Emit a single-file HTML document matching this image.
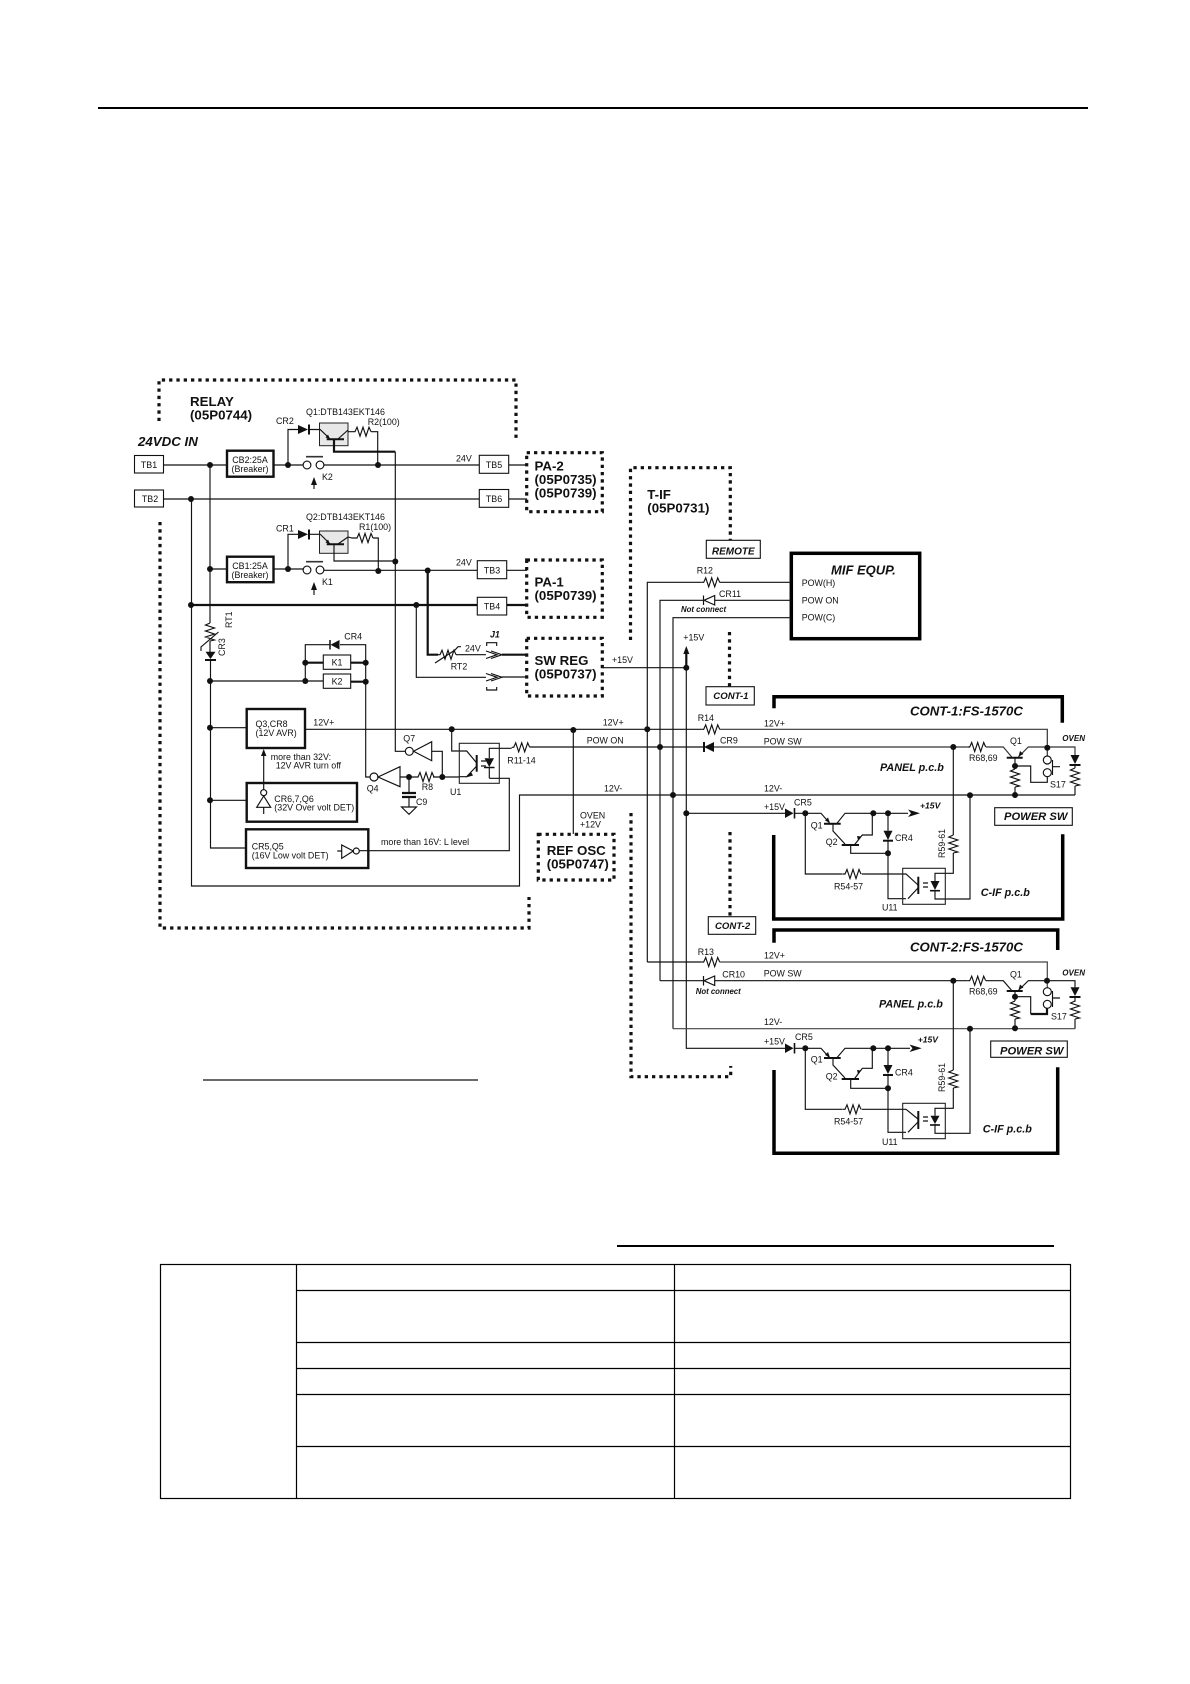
<!DOCTYPE html>
<html><head><meta charset="utf-8"><title>Power supply diagram</title>
<style>
html,body{margin:0;padding:0;background:#fff;width:1190px;height:1684px;overflow:hidden}
svg{display:block}
text{font-family:"Liberation Sans",sans-serif;fill:#111;font-size:8.9px}
.b{font-weight:bold;font-size:13.3px}
.bi{font-weight:bold;font-style:italic}
.l{fill:none;stroke:#111;stroke-width:1.15}
.m{fill:none;stroke:#111;stroke-width:2.2}
.h{fill:none;stroke:#000;stroke-width:3.5}
.d{fill:none;stroke:#111;stroke-width:3.2;stroke-dasharray:3.3 4}
.bx{fill:#fff;stroke:#111;stroke-width:1.1}
.bm{fill:#fff;stroke:#111;stroke-width:2.4}
.g{fill:#e8e8e8;stroke:#222;stroke-width:1}
.f{fill:#111;stroke:none}
.o{fill:#fff;stroke:#111;stroke-width:1.15}
</style></head><body>
<svg width="1190" height="1684" viewBox="0 0 1190 1684" xmlns="http://www.w3.org/2000/svg">
<defs>
<polyline id="rh" class="l" points="0,0 2,0 4,-4.5 7,4.5 10,-4.5 13,4.5 16,-4.5 18,0" />
<polyline id="rv" class="l" points="0,0 -4.5,2 4.5,5 -4.5,8 4.5,11 -4.5,14 4.5,17 0,18" />
<circle id="n" class="f" r="3"/>
</defs>
<rect width="1190" height="1684" fill="#fff"/>

<!-- page rules -->
<line x1="98" y1="108" x2="1088" y2="108" stroke="#000" stroke-width="2"/>
<line x1="203" y1="1080" x2="478" y2="1080" stroke="#111" stroke-width="1.2"/>
<line x1="617" y1="1246" x2="1054" y2="1246" stroke="#000" stroke-width="2"/>

<!-- table -->
<g fill="none" stroke="#000" stroke-width="1.2">
<rect x="160.5" y="1264.5" width="910" height="234"/>
<path d="M296.5 1264.5V1498.5M674.5 1264.5V1498.5"/>
<path d="M296.5 1290.5H1070.5M296.5 1342.5H1070.5M296.5 1368.5H1070.5M296.5 1394.5H1070.5M296.5 1446.5H1070.5"/>
</g>

<!-- dotted boards -->
<path class="d" d="M159 421V380H516V438"/>
<path class="d" d="M160 522V928H529V897"/>
<rect class="d" x="526.7" y="452.7" width="75.6" height="59"/>
<rect class="d" x="526.7" y="560" width="75.6" height="57.3"/>
<rect class="d" x="526.7" y="638.3" width="75.6" height="57.7"/>
<rect class="d" x="538.3" y="834.3" width="75.7" height="45.7"/>
<path class="d" d="M630.5 640V467.7H730.3V540"/>
<path class="d" d="M729.5 632V687"/>
<path class="d" d="M730 832V917"/>
<path class="d" d="M631 813V1076.7H730.7V1066"/>

<!-- RELAY titles -->
<text class="b" x="190" y="406">RELAY</text>
<text class="b" x="190" y="419.5">(05P0744)</text>
<text class="b" x="138" y="446" style="font-style:italic">24VDC IN</text>

<!-- TB1/TB2 wiring -->
<path class="l" d="M163.5 465H227M163.5 499H479M210 465V623M210 569H227"/>
<path class="l" d="M191.5 499V886H519.5V795H1075"/>
<path class="l" d="M273.5 465H303M324 465H479.3M508.7 465H527M508.7 499H527"/>
<path class="l" d="M273.5 569H303M324 570.3H477.3M506.7 570.3H527"/>
<path class="m" d="M191 605H477.3M506.7 605H527"/>
<rect class="bx" x="134.5" y="455.5" width="29" height="17.5"/>
<text x="149" y="468" text-anchor="middle">TB1</text>
<rect class="bx" x="134.5" y="490" width="29" height="17"/>
<text x="150" y="502" text-anchor="middle">TB2</text>
<rect class="bx" x="479.3" y="455.3" width="29.4" height="18"/>
<text x="494" y="468" text-anchor="middle">TB5</text>
<rect class="bx" x="479.3" y="489.5" width="29.4" height="17.8"/>
<text x="494" y="502" text-anchor="middle">TB6</text>
<rect class="bx" x="477.3" y="560.7" width="29.4" height="18"/>
<text x="492" y="573.5" text-anchor="middle">TB3</text>
<rect class="bx" x="477.3" y="597.3" width="29.4" height="17.7" stroke-width="1.4"/>
<text x="492" y="609.5" text-anchor="middle">TB4</text>
<text x="456" y="461.7">24V</text>
<text x="456" y="565.7">24V</text>

<rect class="bm" x="227" y="450.7" width="46.5" height="26"/>
<text x="250" y="463" text-anchor="middle">CB2:25A</text>
<text x="250" y="472" text-anchor="middle">(Breaker)</text>
<rect class="bm" x="227" y="556.7" width="46.5" height="25.5"/>
<text x="250" y="569" text-anchor="middle">CB1:25A</text>
<text x="250" y="578" text-anchor="middle">(Breaker)</text>

<!-- K2 contact -->
<circle class="o" cx="307" cy="465" r="3.9"/><circle class="o" cx="320" cy="465" r="3.9"/>
<line x1="306" y1="456.7" x2="323" y2="456.7" stroke="#333" stroke-width="1.6"/>
<path class="l" d="M314 489V481"/><polygon class="f" points="314,477 311,485 317,485"/>
<text x="322" y="480">K2</text>
<!-- K1 contact -->
<circle class="o" cx="307" cy="570" r="3.9"/><circle class="o" cx="320" cy="570" r="3.9"/>
<line x1="306" y1="561.7" x2="323" y2="561.7" stroke="#333" stroke-width="1.6"/>
<path class="l" d="M314 595V586"/><polygon class="f" points="314,582 311,590 317,590"/>
<text x="322" y="585">K1</text>

<!-- Q1 relay -->
<path class="l" d="M288 465V429.5H298M309 429.5H320"/>
<polygon class="f" points="298,425 298,434 308,429.5"/><line x1="309" y1="424.5" x2="309" y2="434.5" stroke="#111" stroke-width="2"/>
<rect class="g" x="319.5" y="423" width="28.5" height="22.7"/>
<path class="l" d="M320 429.3L330 439M338 439L348 430M348 431.7H353"/>
<line x1="326.7" y1="439.3" x2="344" y2="439.3" stroke="#111" stroke-width="2"/>
<polygon class="f" points="330,439 325.5,437.5 328,434.5"/>
<use href="#rh" x="353" y="431.7"/>
<path class="l" d="M371 431.7H377.7V465"/>
<path class="m" d="M334 439V451.7H395.3"/>
<text x="306" y="415">Q1:DTB143EKT146</text>
<text x="367.7" y="425">R2(100)</text>
<text x="276" y="424">CR2</text>

<!-- Q2 relay -->
<path class="l" d="M288 569V534.3H298M309 534.3H320"/>
<polygon class="f" points="298,530 298,539 308,534.3"/><line x1="309" y1="529.5" x2="309" y2="539.5" stroke="#111" stroke-width="2"/>
<rect class="g" x="319.5" y="531" width="28.5" height="22.3"/>
<path class="l" d="M320 534L330 544M338 544L348 537L352 538H355"/>
<line x1="326.7" y1="544.3" x2="344" y2="544.3" stroke="#111" stroke-width="2"/>
<polygon class="f" points="330,544 325.5,542.5 328,539.5"/>
<use href="#rh" x="355" y="538"/>
<path class="l" d="M373 538H378.3V571M334 544V561H395.3"/>
<text x="306" y="520">Q2:DTB143EKT146</text>
<text x="359" y="530">R1(100)</text>
<text x="276" y="531.7">CR1</text>
<path class="l" d="M395.3 451.7V751.3H405"/>

<!-- SW REG feeds -->
<path class="m" d="M427.7 570.5V654.7H438"/>
<use href="#rh" x="438" y="654.7"/>
<path class="l" d="M435 663L455 650L458 646.7H461M456 654.7H486"/>
<path class="m" d="M502 654.7H526"/>
<path class="l" d="M486 651L497 654.7L486 658.5M491 651L502 654.7L491 658.5"/>
<path class="l" d="M486.7 646V642.7H496.7V646M486.7 687V690H496.7V687"/>
<path class="l" d="M416.3 605V677.3H486M502 677H526"/>
<path class="l" d="M486 673.5L497 677.3L486 681M491 673.5L502 677.3L491 681"/>
<text x="465" y="651.7">24V</text>
<text x="450.7" y="669.3">RT2</text>
<text class="bi" x="490" y="637.7">J1</text>

<!-- RT1 CR3 -->
<use href="#rv" x="210" y="623"/>
<path class="l" d="M201 651V647L218.5 632"/>
<polygon class="f" points="205.5,651.7 215.5,651.7 210.5,659"/>
<line x1="205" y1="660" x2="216" y2="660" stroke="#111" stroke-width="2"/>
<path class="l" d="M210 641V652M210.5 660V848H246"/>
<text transform="translate(232,628) rotate(-90)">RT1</text>
<text transform="translate(225,656) rotate(-90)">CR3</text>

<!-- CR4, K1, K2 -->
<path class="l" d="M305.3 681V644.7H330M340 644.7H365.7V777H370"/>
<polygon class="f" points="330.5,644.7 339.5,640 339.5,649.5"/><line x1="330" y1="640" x2="330" y2="649.5" stroke="#111" stroke-width="1.5"/>
<text x="344.3" y="639.3">CR4</text>
<path class="l" d="M210 681H323.3"/>
<path class="m" d="M305.3 662.7H323.3M350.7 662.7H365.7M350.7 681.7H365.7"/>
<rect class="bx" x="323.3" y="655" width="27.4" height="14.3"/>
<text x="337" y="665.5" text-anchor="middle">K1</text>
<rect class="bx" x="323.3" y="674" width="27.4" height="14.3"/>
<text x="337" y="684.5" text-anchor="middle">K2</text>

<!-- Q3 AVR -->
<path class="l" d="M210 727.7H246.7M305 729.3H701.7"/>
<rect class="bm" x="246.7" y="709" width="58.3" height="39"/>
<text x="255.5" y="727">Q3,CR8</text>
<text x="255.5" y="736">(12V AVR)</text>
<text x="313.3" y="725.3">12V+</text>
<text x="270.7" y="760">more than 32V:</text>
<text x="275.7" y="768.7">12V AVR turn off</text>
<path class="l" d="M263.7 790V754"/><polygon class="f" points="263.7,749 261,756 266.4,756"/>

<!-- CR6 box -->
<path class="l" d="M210 800.3H246.7"/>
<rect class="bm" x="246.7" y="783" width="110.3" height="38.7"/>
<circle class="o" cx="263.7" cy="792.7" r="3"/>
<polygon class="o" points="263.7,796 256.7,807.3 270.7,807.3"/>
<path class="l" d="M263.7 807.3V814M263.7 783V789.7"/>
<text x="274.3" y="802">CR6,7,Q6</text>
<text x="274.3" y="810.7">(32V Over volt DET)</text>

<!-- CR5 box -->
<rect class="bm" x="246" y="829.3" width="122.3" height="38.7"/>
<text x="251.7" y="849.3">CR5,Q5</text>
<text x="251.7" y="858.7">(16V Low volt DET)</text>
<path class="l" d="M337.3 851H341.7M359.3 850.7H509.3V778.3H489.3"/>
<polygon class="o" points="341.7,845 341.7,858.3 353.3,851"/>
<circle class="o" cx="356.3" cy="851" r="3"/>
<text x="381" y="845">more than 16V: L level</text>

<!-- Q7 Q4 -->
<circle class="o" cx="409.3" cy="751.3" r="4"/>
<polygon class="o" points="413.5,751.3 431.7,741.7 431.7,760.7"/>
<path class="l" d="M431.7 751.3H442.3V777"/>
<text x="403.3" y="741.7">Q7</text>
<circle class="o" cx="374" cy="777" r="4"/>
<polygon class="o" points="378,777 400,766.7 400,786.7"/>
<path class="l" d="M400 777H416M433 777H459"/>
<use href="#rh" x="416" y="777"/>
<text x="366.7" y="791.7">Q4</text>
<text x="421.7" y="790">R8</text>
<path class="l" d="M409 777V792.7M409 796.7V807"/>
<path class="m" d="M402 793H416M402 797H416"/>
<polygon class="o" points="401.5,807 416.5,807 409,814.3"/>
<text x="416" y="805">C9</text>

<!-- U1 -->
<path class="l" d="M451.7 729.3V751H466.7L476.7 763M476.7 766L466.7 776.7H459"/>
<rect x="459.3" y="743.3" width="40" height="40" fill="none" stroke="#222" stroke-width="1.1"/>
<line x1="476.7" y1="755" x2="476.7" y2="771.7" stroke="#111" stroke-width="2"/>
<polygon class="f" points="466,777.5 471,772 473,775.5"/>
<path class="l" d="M481 761H486M481 766H486"/>
<polygon class="f" points="484.5,758.3 494,758.3 489.3,767"/>
<line x1="484" y1="767.5" x2="494.5" y2="767.5" stroke="#111" stroke-width="1.5"/>
<path class="l" d="M489.3 758V748.3H511.7M489.3 767V778.3"/>
<use href="#rh" x="511.7" y="747.3"/>
<path class="l" d="M530 747H704"/>
<text x="507.3" y="763.3">R11-14</text>
<text x="450" y="795">U1</text>
<text x="586.7" y="743.3">POW ON</text>
<text x="602.7" y="725.3">12V+</text>
<text x="604" y="791.7">12V-</text>

<!-- OVEN 12V -->
<path class="l" d="M573.3 730V834"/>
<text x="580" y="818.3">OVEN</text>
<text x="580" y="827.3">+12V</text>

<!-- Box labels right of relay -->
<text class="b" x="534.5" y="470.7">PA-2</text>
<text class="b" x="534.5" y="484">(05P0735)</text>
<text class="b" x="534.5" y="497.3">(05P0739)</text>
<text class="b" x="534.5" y="586.7">PA-1</text>
<text class="b" x="534.5" y="600">(05P0739)</text>
<text class="b" x="534.5" y="665">SW REG</text>
<text class="b" x="534.5" y="678.3">(05P0737)</text>
<text class="b" x="546.7" y="855">REF OSC</text>
<text class="b" x="546.7" y="868.3">(05P0747)</text>
<text class="b" x="647.3" y="499">T-IF</text>
<text class="b" x="647.3" y="512.7">(05P0731)</text>

<!-- +15V -->
<path class="l" d="M602.3 667.7H686.3"/>
<text x="612" y="663">+15V</text>
<path class="m" d="M686.3 668V652"/>
<polygon class="f" points="686.3,646 683.3,654 689.3,654"/>
<text x="683.3" y="640.7">+15V</text>

<!-- MIF -->
<rect x="791.3" y="553.3" width="128.4" height="85.4" fill="#fff" stroke="#000" stroke-width="3.5"/>
<text class="bi" x="831" y="574.3" style="font-size:13px">MIF EQUP.</text>
<text x="801.7" y="586">POW(H)</text>
<text x="801.7" y="603.3">POW ON</text>
<text x="801.7" y="620.7">POW(C)</text>
<rect class="bx" x="706.3" y="540.3" width="54" height="18"/>
<text class="bi" x="733.3" y="554.3" text-anchor="middle" style="font-size:10px">REMOTE</text>
<rect class="bx" x="706" y="686.7" width="48.3" height="18.3" stroke-width="1.3"/>
<text class="bi" x="713.3" y="699" style="font-size:9.6px">CONT-1</text>
<rect class="bx" x="708.3" y="916.7" width="47.4" height="17.6"/>
<text class="bi" x="715" y="929" style="font-size:9.6px">CONT-2</text>

<path class="l" d="M647.3 962V582.3H701.7M719.5 582.3H791.3"/>
<use href="#rh" x="701.7" y="582.3"/>
<text x="696.7" y="573.3">R12</text>
<path class="l" d="M660 980.7V600.3H703.3M714.7 600.3H791.3"/>
<polygon class="o" points="704,600.3 714.7,595.5 714.7,605"/><line x1="703.5" y1="595.5" x2="703.5" y2="605" stroke="#111" stroke-width="1.2"/>
<text x="719" y="597">CR11</text>
<text class="bi" x="681" y="612" style="font-size:7.8px">Not connect</text>
<path class="l" d="M673 1028.7V617.7H791.3"/>
<path class="l" d="M686.3 668V1048.3H785M686.3 813.3H785"/>

<!-- CONT-1 -->
<path class="h" d="M774 708.3V696.7H1062.3V722.7"/>
<path class="h" d="M773.7 835V919H1062.7V834.3"/>
<text class="bi" x="910" y="715.7" style="font-size:13.2px">CONT-1:FS-1570C</text>
<use href="#rh" x="701.7" y="729.3"/>
<text x="697.7" y="721">R14</text>
<path d="M719.5 729.3H1047.3V756" fill="none" stroke="#333" stroke-width="1.2"/>
<polygon class="f" points="704,747 714,742 714,752"/><line x1="704" y1="742" x2="704" y2="752" stroke="#111" stroke-width="2"/>
<text x="720" y="743.3">CR9</text>
<text x="764" y="726.7">12V+</text>
<text x="763.7" y="744.3">POW SW</text>
<path d="M714 747H967.7M986 747H1003.3L1011.7 757M1018.3 757L1028.3 747H1075V755" fill="none" stroke="#333" stroke-width="1.15"/>
<use href="#rh" x="967.7" y="747"/>
<line x1="1006.7" y1="757.7" x2="1022.7" y2="757.7" stroke="#111" stroke-width="2"/>
<polygon class="f" points="1018.5,756.5 1020,751 1023.5,754"/>
<text class="bi" x="1062.3" y="741" style="font-size:8px">OVEN</text>
<text x="1010" y="744">Q1</text>
<text x="969" y="761">R68,69</text>
<polygon class="f" points="1070.5,755 1079.5,755 1075,764"/><line x1="1069.5" y1="765" x2="1080.5" y2="765" stroke="#111" stroke-width="2"/>
<path class="l" d="M1075 765V768M1075 786V795"/>
<use href="#rv" x="1075" y="768"/>
<path class="l" d="M1015 757.7V769M1015 787V795M1015 766H1030.7V782.3H1047.3V776.7"/>
<use href="#rv" x="1015" y="769"/>
<circle class="o" cx="1047.3" cy="760" r="4"/><circle class="o" cx="1047.3" cy="772.7" r="4"/>
<path class="l" d="M1052.5 760V775M1052.5 766.7H1060"/>
<text x="1050" y="787.3">S17</text>
<text class="bi" x="880" y="771" style="font-size:10.8px">PANEL p.c.b</text>
<text x="764" y="791.7">12V-</text>

<rect class="bx" x="994.7" y="807.7" width="77.6" height="17.6"/>
<text class="bi" x="1004" y="820" style="font-size:11.2px">POWER SW</text>

<!-- C-IF 1 -->
<text x="764" y="810">+15V</text>
<text x="794" y="805.7">CR5</text>
<polygon class="f" points="785,808.5 785,818 793.5,813.3"/><line x1="794.5" y1="808" x2="794.5" y2="818.5" stroke="#111" stroke-width="1.6"/>
<path class="l" d="M795 813.3H821L829.3 822.7M836.7 823.7L845 813.3H908M828 824H833V831L845 844M854.3 845L862.3 835H872.3V813.3M850.7 845V853.3H888M888 813.3V830.7M888 840V898.7H906M805.3 813.3V874H842.7M861.7 874H906L918 885M918 888L908 898.7"/>
<use href="#rh" x="843" y="874"/>
<line x1="824" y1="823.7" x2="840.7" y2="823.7" stroke="#111" stroke-width="2"/>
<line x1="841.7" y1="845" x2="859" y2="845" stroke="#111" stroke-width="2"/>
<polygon class="f" points="908,809.5 920,813.3 908,817 911,813.3"/>
<polygon class="f" points="830,823 825,820.5 828,817.5"/><polygon class="f" points="858,840 857,836 861,836.5"/>
<text class="bi" x="920" y="808.7" style="font-size:8.6px">+15V</text>
<polygon class="f" points="883.5,830.7 892.5,830.7 888,840"/><line x1="883" y1="840.7" x2="893" y2="840.7" stroke="#111" stroke-width="2"/>
<text x="895" y="841">CR4</text>
<text x="810.7" y="828.3">Q1</text><text x="825.7" y="845">Q2</text>
<text x="834" y="889.3">R54-57</text>
<path class="l" d="M953.3 747V835M953.3 853V873.3H935V881M935 890V899H970V795.3"/>
<use href="#rv" x="953.3" y="835"/>
<text transform="translate(945,858) rotate(-90)">R59-61</text>
<rect x="902.7" y="868.3" width="42.6" height="36" fill="none" stroke="#222" stroke-width="1.1"/>
<line x1="918.3" y1="876.7" x2="918.3" y2="894" stroke="#111" stroke-width="2"/>
<polygon class="f" points="930.5,881 939.5,881 935,890"/><line x1="930" y1="890.7" x2="940" y2="890.7" stroke="#111" stroke-width="1.6"/>
<path class="l" d="M923 883H928M923 887H928"/>
<text x="882" y="910.7">U11</text>
<text class="bi" x="980.7" y="896" style="font-size:10.8px">C-IF p.c.b</text>

<!-- CONT-2 -->
<path class="h" d="M774 942.7V930H1057.7V950"/>
<path class="h" d="M774 1070V1153.3H1057.7V1067.3"/>
<text class="bi" x="910" y="951.7" style="font-size:13.2px">CONT-2:FS-1570C</text>
<path class="l" d="M647.3 962H701.7"/>
<use href="#rh" x="701.7" y="962"/>
<text x="697.7" y="955">R13</text>
<path d="M719.5 962H1047.3V988" fill="none" stroke="#444" stroke-width="1.2"/>
<path class="l" d="M660 980.7H703.3M714.7 980.7H967.7M986 980.7H1003.3L1011.7 990.5M1018.3 990.5L1028.3 980.7H1075V987.3"/>
<polygon class="o" points="704,980.7 714.7,976 714.7,985.5"/><line x1="703.5" y1="976" x2="703.5" y2="985.5" stroke="#111" stroke-width="1.2"/>
<use href="#rh" x="967.7" y="980.7"/>
<line x1="1006.7" y1="991" x2="1022.7" y2="991" stroke="#111" stroke-width="2"/>
<polygon class="f" points="1018.5,990 1020,984.5 1023.5,987.5"/>
<text x="722.3" y="977.3">CR10</text>
<text class="bi" x="695.7" y="994" style="font-size:7.8px">Not connect</text>
<text x="764" y="958.3">12V+</text>
<text x="763.7" y="976.7">POW SW</text>
<text class="bi" x="1062.3" y="975.7" style="font-size:8px">OVEN</text>
<text x="1010" y="977.7">Q1</text>
<text x="969" y="994.3">R68,69</text>
<polygon class="f" points="1070.5,987.3 1079.5,987.3 1075,996"/><line x1="1069.5" y1="997" x2="1080.5" y2="997" stroke="#111" stroke-width="2"/>
<path class="l" d="M1075 997V1001.7M1075 1019V1028.7"/>
<use href="#rv" x="1075" y="1001"/>
<path class="l" d="M1015 991V1001M1015 1019V1028.3M1015 996.7H1030.7V1014"/>
<path class="m" d="M1030.7 1014H1047V1008"/>
<use href="#rv" x="1015" y="1001"/>
<circle class="o" cx="1047.3" cy="991.7" r="4"/><circle class="o" cx="1047.3" cy="1004.3" r="4"/>
<path class="l" d="M1052.5 991V1007M1052.5 998H1060"/>
<text x="1051" y="1019.3">S17</text>
<text class="bi" x="879" y="1007.7" style="font-size:10.8px">PANEL p.c.b</text>
<path d="M673 1028.7H1075" fill="none" stroke="#444" stroke-width="1.2"/>
<text x="764" y="1025">12V-</text>

<rect class="bx" x="990.7" y="1041" width="76.6" height="16.3"/>
<text class="bi" x="1000" y="1054.3" style="font-size:11.2px">POWER SW</text>

<text x="764" y="1044.3">+15V</text>
<text x="795" y="1040">CR5</text>
<polygon class="f" points="785,1043.5 785,1053 793.5,1048.3"/><line x1="794.5" y1="1043" x2="794.5" y2="1053.5" stroke="#111" stroke-width="1.6"/>
<path class="l" d="M795 1048.3H821L829.3 1057.5M836.7 1058L845 1048.3H910M828 1058H833V1065L845 1078M854.3 1079L862.3 1068.3H872.3V1048.3M850.7 1079V1088.3H888M888 1048.3V1065M888 1074V1132.3H906M805.3 1048.3V1109.3H842.7M861.7 1109.3H906L918 1119M918 1122L908 1132.3"/>
<use href="#rh" x="843" y="1109.3"/>
<line x1="824" y1="1058" x2="840.7" y2="1058" stroke="#111" stroke-width="2"/>
<line x1="841.7" y1="1079" x2="859" y2="1079" stroke="#111" stroke-width="2"/>
<polygon class="f" points="909.5,1044.5 921.7,1048.3 909.5,1052 912.5,1048.3"/>
<polygon class="f" points="830,1057.5 825,1055 828,1052"/><polygon class="f" points="858,1074 857,1070 861,1070.5"/>
<text class="bi" x="917.7" y="1042.3" style="font-size:8.6px">+15V</text>
<polygon class="f" points="883.5,1065 892.5,1065 888,1074"/><line x1="883" y1="1075" x2="893" y2="1075" stroke="#111" stroke-width="2"/>
<text x="895" y="1075.7">CR4</text>
<text x="810.7" y="1062.7">Q1</text><text x="825.7" y="1079.3">Q2</text>
<text x="834" y="1124.3">R54-57</text>
<path class="l" d="M953.3 980.7V1070M953.3 1088V1108.3H935V1115.7M935 1124V1133.3H970V1028.7"/>
<use href="#rv" x="953.3" y="1070"/>
<text transform="translate(945,1092) rotate(-90)">R59-61</text>
<rect x="902.7" y="1103.3" width="42.6" height="35.4" fill="none" stroke="#222" stroke-width="1.1"/>
<line x1="918.3" y1="1111" x2="918.3" y2="1129" stroke="#111" stroke-width="2"/>
<polygon class="f" points="930.5,1115.7 939.5,1115.7 935,1124"/><line x1="930" y1="1125" x2="940" y2="1125" stroke="#111" stroke-width="1.6"/>
<path class="l" d="M923 1117H928M923 1121H928"/>
<text x="882" y="1145">U11</text>
<text class="bi" x="982.7" y="1132.7" style="font-size:10.8px">C-IF p.c.b</text>

<!-- nodes -->
<use href="#n" x="210" y="465"/><use href="#n" x="191" y="499"/><use href="#n" x="288" y="465"/><use href="#n" x="378" y="465"/>
<use href="#n" x="210" y="569"/><use href="#n" x="288" y="569"/><use href="#n" x="378.3" y="571"/><use href="#n" x="395.3" y="561.5"/>
<use href="#n" x="427.7" y="570.5"/><use href="#n" x="191" y="605"/><use href="#n" x="416.3" y="605"/>
<use href="#n" x="305.3" y="662.7"/><use href="#n" x="365.7" y="662.7"/><use href="#n" x="210" y="681"/><use href="#n" x="305.3" y="681"/><use href="#n" x="365.7" y="681.7"/>
<use href="#n" x="210" y="727.7"/><use href="#n" x="210" y="800.3"/><use href="#n" x="451.7" y="729.3"/><use href="#n" x="573.3" y="730"/>
<use href="#n" x="409" y="777"/><use href="#n" x="442.3" y="777"/>
<use href="#n" x="686.3" y="667.7"/><use href="#n" x="647.3" y="729.3"/><use href="#n" x="660" y="747"/><use href="#n" x="673" y="795"/><use href="#n" x="686.3" y="813.3"/>
<use href="#n" x="953.3" y="747"/><use href="#n" x="1047.3" y="747.7"/><use href="#n" x="1015" y="766"/><use href="#n" x="1015" y="795"/><use href="#n" x="970" y="795.3"/>
<use href="#n" x="805.3" y="813.3"/><use href="#n" x="873.3" y="813.3"/><use href="#n" x="888" y="813.3"/><use href="#n" x="888" y="853.3"/>
<use href="#n" x="953.3" y="980.7"/><use href="#n" x="1047" y="980.7"/><use href="#n" x="1015" y="996.7"/><use href="#n" x="1015" y="1028.3"/><use href="#n" x="970" y="1028.7"/>
<use href="#n" x="805.3" y="1048.3"/><use href="#n" x="873.3" y="1048.3"/><use href="#n" x="888" y="1048.3"/><use href="#n" x="888" y="1088.3"/>
</svg>
</body></html>
